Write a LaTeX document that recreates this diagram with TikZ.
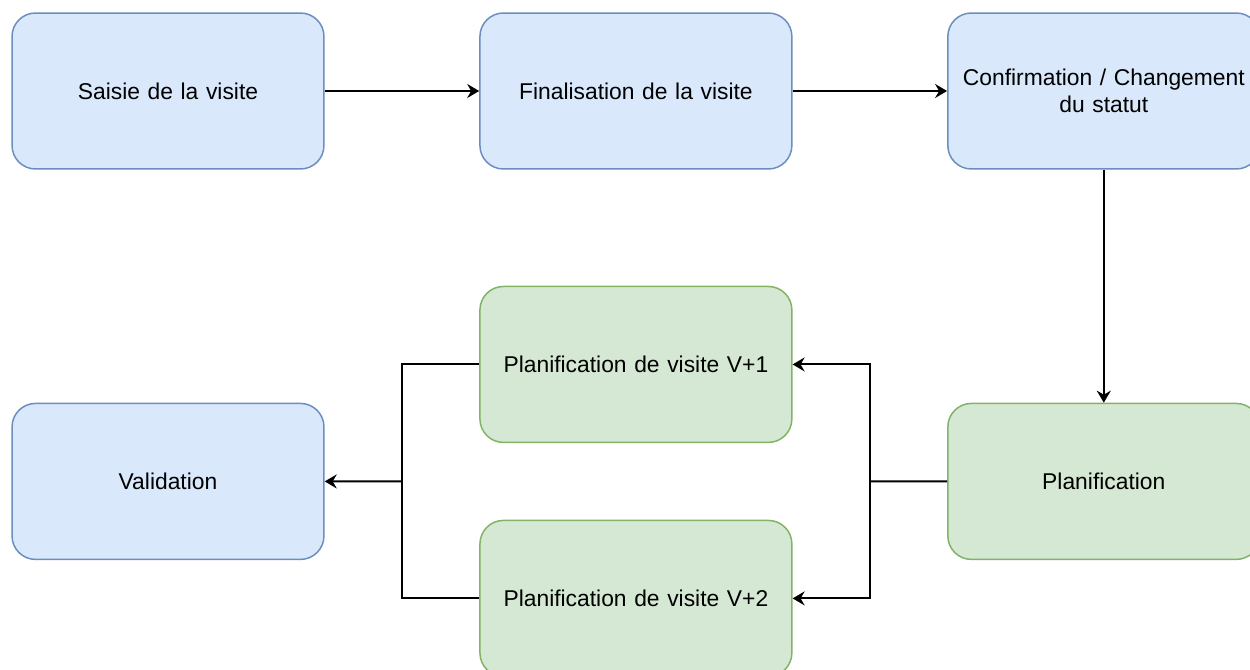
\documentclass[tikz,border=0pt]{standalone}
\usepackage{fontspec}
\setmainfont{Liberation Sans}
\usetikzlibrary{arrows.meta,positioning,calc}
\definecolor{bluefill}{HTML}{DAE8FC}
\definecolor{bluedraw}{HTML}{6C8EBF}
\definecolor{greenfill}{HTML}{D5E8D4}
\definecolor{greendraw}{HTML}{82B366}
\tikzset{step box/.style={rectangle,rounded corners=0.47cm,line width=0.85pt,minimum width=6.24cm,minimum height=3.12cm,text width=6cm,align=center,inner sep=0pt,font=\fontsize{13}{15.4}\selectfont},
         blue box/.style={step box,fill=bluefill,draw=bluedraw},
         green box/.style={step box,fill=greenfill,draw=greendraw},
         link/.style={line width=1.1pt,black},
}

\begin{document}
\begin{tikzpicture}[->,>={Stealth[length=2.4mm,width=2.8mm,inset=0.8mm]},
x=0.02cm, y=-0.02cm,
node distance=4.66cm and 3.09cm]
\useasboundingbox (0,0) rectangle (1250,669);
% top row
\node[blue box] (saisie) at (168,91) {Saisie de la visite};
\node[blue box, right=of saisie] (final) {Finalisation de la visite};
\node[blue box, right=of final] (confirm) {Confirmation / Changement\\du statut};

% bottom row
\node[green box, below=of confirm] (planif) {Planification};
\node[green box, left=of planif, yshift=2.34cm] (v1) {Planification de visite V+1};
\node[green box, left=of planif, yshift=-2.34cm] (v2) {Planification de visite V+2};
\node[blue box, left=of v1, yshift=-2.34cm] (valid) {Validation};

\coordinate (split) at ($(planif.west)!0.5!(v1.east |- planif.west)$);
\coordinate (join) at ($(v1.west |- valid.east)!0.5!(valid.east)$);

\draw[link] (saisie) -- (final);
\draw[link] (final) -- (confirm);
\draw[link] (confirm) -- (planif);
\draw[link,-] (planif.west) -- (split);
\draw[link] (split) |- (v1.east);
\draw[link] (split) |- (v2.east);
\draw[link,-] (v1.west) -| (join);
\draw[link,-] (v2.west) -| (join);
\draw[link] (join) -- (valid.east);
\end{tikzpicture}
\end{document}
